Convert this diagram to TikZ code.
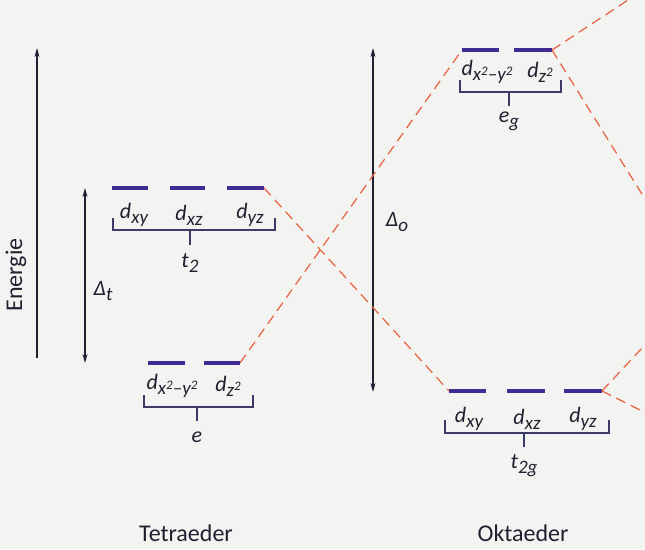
\documentclass[tikz,border=0pt]{standalone}
\usepackage{fontspec}
\setmainfont{Carlito}
\usetikzlibrary{arrows.meta}
\definecolor{barc}{HTML}{3F2A96}
\definecolor{corr}{HTML}{E8623F}
\definecolor{brk}{HTML}{3C3A66}
\definecolor{paper}{HTML}{F3F3F1}
\definecolor{ink}{HTML}{202030}
\newcommand{\lo}[1]{\raisebox{-0.5ex}{\fontsize{19}{19}\selectfont\itshape #1}}
\newcommand{\hi}[1]{\raisebox{0.6ex}{\fontsize{13}{13}\selectfont #1}}
\newcommand{\orb}[1]{\textit{d}\lo{#1}}
\begin{document}
\begin{tikzpicture}[x=1pt,y=-1pt,
  lvl/.style={draw=barc,line width=4pt},
  corrline/.style={draw=corr,line width=1.2pt,dash pattern=on 10pt off 6pt},
  brkline/.style={draw=brk,line width=1.1pt},
  axis/.style={draw=ink,line width=1.1pt,-{Stealth[length=9pt,width=5pt]}},
  daxis/.style={draw=ink,line width=1.1pt,{Stealth[length=9pt,width=5pt]}-{Stealth[length=9pt,width=5pt]}},
  lab/.style={font=\fontsize{22}{24}\selectfont, text=ink, inner sep=0pt},
  ttl/.style={font=\fontsize{24}{26}\selectfont, text=ink, inner sep=0pt}]
\fill[paper] (0,0) rectangle (645,549);
\useasboundingbox (0,0) rectangle (645,549);
\clip (0,0) rectangle (645,549);

% energy axis
\coordinate (E0) at (37,358);
\coordinate (E1) at (37,48);
\draw[axis] (E0) -- (E1);
\node[ttl,rotate=90] (energie) at (16,275) {Energie};

% Delta t
\coordinate (T0) at (85,363);
\coordinate (T1) at (85,188);
\draw[daxis] (T0) -- (T1);
\node[lab] (dt) at (103,291) {\textit{Δ}\lo{t}};

% Delta o
\coordinate (O0) at (373,392);
\coordinate (O1) at (373,48);
\draw[daxis] (O0) -- (O1);
\node[lab] (do) at (397,222) {\textit{Δ}\lo{o}};

% tetrahedral t2
\coordinate (a1) at (112,188); \coordinate (a2) at (148,188);
\coordinate (b1) at (170,188); \coordinate (b2) at (205,188);
\coordinate (c1) at (227,188); \coordinate (c2) at (264,188);
\draw[lvl] (a1) -- (a2); \draw[lvl] (b1) -- (b2); \draw[lvl] (c1) -- (c2);
\node[lab] (txy) at (134,215) {\orb{xy}};
\node[lab] (txz) at (189,215) {\orb{xz}};
\node[lab] (tyz) at (250,215) {\orb{yz}};
\draw[brkline] (113,218) -- (113,230) -- (275,230) -- (275,218);
\draw[brkline] (190,230) -- (190,245);
\node[lab] (t2) at (190,263) {\textit{t}\lo{2}};

% tetrahedral e
\coordinate (d1) at (148,363); \coordinate (d2) at (185,363);
\coordinate (e1) at (204,363); \coordinate (e2) at (240,363);
\draw[lvl] (d1) -- (d2); \draw[lvl] (e1) -- (e2);
\node[lab] (tx2) at (172,386) {\orb{x\hi{2}–y\hi{2}}};
\node[lab] (tz2) at (228,386) {\orb{z\hi{2}}};
\draw[brkline] (144,395) -- (144,407) -- (253,407) -- (253,395);
\draw[brkline] (197,407) -- (197,421);
\node[lab] (te) at (197,437) {\textit{e}};
\node[ttl] (tetra) at (186,533) {Tetraeder};

% octahedral eg
\coordinate (f1) at (462,50); \coordinate (f2) at (499,50);
\coordinate (g1) at (514,50); \coordinate (g2) at (552,50);
\draw[lvl] (f1) -- (f2); \draw[lvl] (g1) -- (g2);
\node[lab] (ox2) at (487,72) {\orb{x\hi{2}–y\hi{2}}};
\node[lab] (oz2) at (540,72) {\orb{z\hi{2}}};
\draw[brkline] (460,80) -- (460,92) -- (561,92) -- (561,80);
\draw[brkline] (509,92) -- (509,106);
\node[lab] (eg) at (509,121) {\textit{e}\lo{g}};

% octahedral t2g
\coordinate (h1) at (449,391); \coordinate (h2) at (486,391);
\coordinate (i1) at (507,391); \coordinate (i2) at (545,391);
\coordinate (j1) at (564,391); \coordinate (j2) at (602,391);
\draw[lvl] (h1) -- (h2); \draw[lvl] (i1) -- (i2); \draw[lvl] (j1) -- (j2);
\node[lab] (oxy) at (469,419) {\orb{xy}};
\node[lab] (oxz) at (527,419) {\orb{xz}};
\node[lab] (oyz) at (583,419) {\orb{yz}};
\draw[brkline] (445,420) -- (445,433) -- (609,433) -- (609,420);
\draw[brkline] (524,433) -- (524,447);
\node[lab] (t2g) at (524,466) {\textit{t}\lo{2g}};
\node[ttl] (okta) at (523,533) {Oktaeder};

% correlation lines
\coordinate (r1) at (660,-21);
\coordinate (r2) at (670,239);
\coordinate (r3) at (670,318);
\coordinate (r4) at (670,425);
\draw[corrline] (c2) -- (h1);
\draw[corrline] (e2) -- (f1);
\draw[corrline] (g2) -- (r1);
\draw[corrline] (g2) -- (r2);
\draw[corrline] (j2) -- (r3);
\draw[corrline] (j2) -- (r4);
\end{tikzpicture}
\end{document}
